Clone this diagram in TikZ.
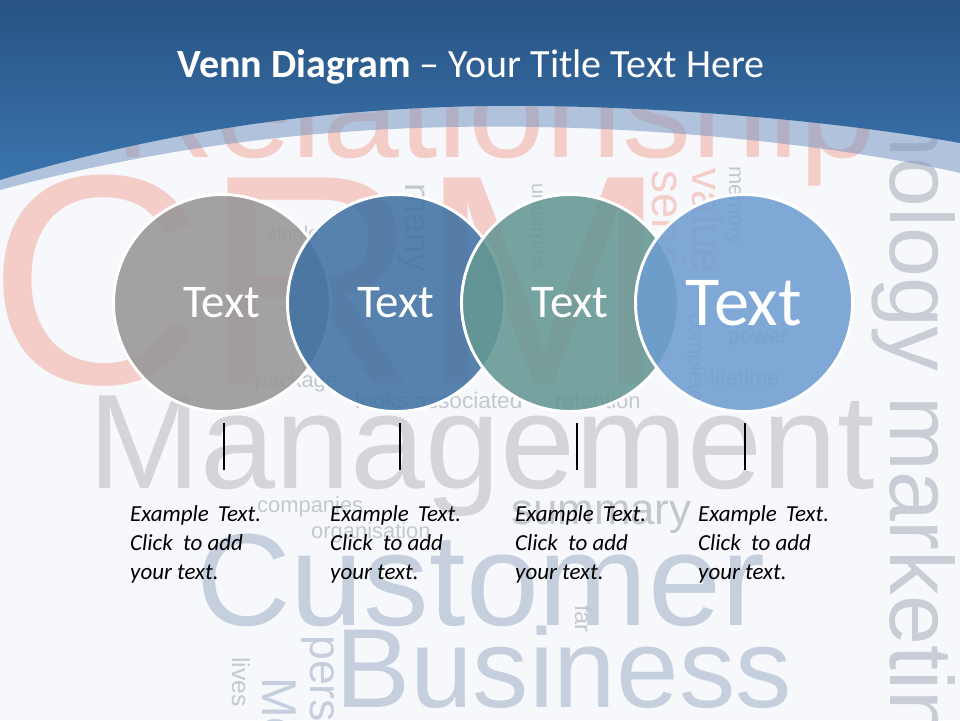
\documentclass[tikz,border=0pt]{standalone}
\usepackage{fontspec}
\usepackage{tikz}
\setmainfont{Carlito}
\newfontfamily\cloudfont{Liberation Sans}
\definecolor{cPage}{RGB}{246,248,252}
\definecolor{cHeadTop}{RGB}{40,83,131}
\definecolor{cHeadBot}{RGB}{58,116,174}
\definecolor{cBand}{RGB}{122,152,194}
\definecolor{cPink}{RGB}{245,205,200}
\definecolor{cGrayWord}{RGB}{211,213,217}
\definecolor{cBlueWord}{RGB}{197,207,221}
\definecolor{cSideWord}{RGB}{201,205,214}
\definecolor{cSmallWord}{RGB}{196,200,206}
\definecolor{cGrayC}{RGB}{151,151,151}
\definecolor{cBlueC}{RGB}{65,114,163}
\definecolor{cTealC}{RGB}{101,151,147}
\definecolor{cSkyC}{RGB}{111,157,209}
\tikzset{
	venn/.style ={circle, draw=white, line width=2.5pt, minimum size=6.51cm, inner sep=0pt, fill opacity=0.88, text opacity=1, text=white},
	stem/.style ={line width=2.2pt, black},
	note/.style ={anchor=north west, inner sep=0pt, align=left, font=\itshape\fontsize{19.6}{24.7}\selectfont},
	% word cloud styles
	hword/.style={anchor=base west, inner sep=0pt},
	vword/.style={hword, rotate=-90},
}
\begin{document}
\begin{tikzpicture}[x=0.03cm, y=-0.03cm]
	\useasboundingbox (0,0) rectangle (960,720);
	\clip (0,0) rectangle (960,720);
	\fill[cPage] (0,0) rectangle (960,720);
	% word cloud behind everything
	\node[hword, text=cPink, font=\cloudfont\fontsize{255}{255}\selectfont] (crm) at (-12,383) {CRM};
	\foreach \w/\x/\y/\s/\c [count=\k] in {Relationship/115/157/118/cPink, Management/88/488/115/cGrayWord,
		Customer/196/625/112/cBlueWord, Business/335/707/96/cBlueWord, single/267/240/17/cSmallWord,
		package/255/387/18.7/cSmallWord, looks associated/355/408/19.3/cSmallWord, retention/555/408/18.7/cSmallWord,
		power/728/343/18.7/cSmallWord, lifetime/710/385/18.7/cSmallWord, companies/257/512/18.7/cSmallWord,
		organisation/311/538/18.7/cSmallWord, summary/511/524/37.4/cSmallWord}
		\node[hword, text=\c, font=\cloudfont\fontsize{\s}{\s}\selectfont] (h\k) at (\x,\y) {\w};
	\foreach \w/\x/\y/\s/\c [count=\k] in {technology marketing/890/-62/76.5/cSideWord, many/405/183/31/cSmallWord,
		service/652/170/39/cPink, value/692/168/37.4/cPink, memory/729/166/18.7/cSmallWord,
		underpins/532/183/17/cSmallWord, complete/689/313/18.7/cSmallWord, far/575/605/20/cSmallWord,
		pers/310/635/38/cBlueWord, Mo/262/677/41.7/cBlueWord, lives/232/657/21/cSmallWord}
		\node[vword, text=\c, font=\cloudfont\fontsize{\s}{\s}\selectfont] (v\k) at (\x,\y) {\w};
	% header
	\fill[cBand, opacity=0.55] (0,0) -- (960,0) -- (960,173) .. controls (860,150) and (700,130) .. (540,127)
		.. controls (380,124) and (200,136) .. (0,190) -- cycle;
	\shade[top color=cHeadTop, bottom color=cHeadBot] (0,0) -- (960,0) -- (960,143) .. controls (860,125) and (700,108) .. (540,106)
		.. controls (380,104) and (200,120) .. (0,180) -- cycle;
	\node[text=white, anchor=base, font=\fontsize{34.2}{40}\selectfont] (title) at (471,77) {\textbf{Venn Diagram} \textendash{} Your Title Text Here};
	% circles
	\foreach \i/\x/\c/\s in {1/222/cGrayC/40, 2/396/cBlueC/40, 3/570/cTealC/40, 4/744/cSkyC/60}
		\node[venn, fill=\c, font=\fontsize{\s}{\s}\selectfont] (c\i) at (\x,303) {Text};
	% stems and notes
	\foreach \i/\x in {1/224, 2/400, 3/577, 4/745}{
		\coordinate (s\i) at (\x,423);
		\draw[stem] (s\i) -- ++(0,47);
	}
	\foreach \i/\x in {1/130, 2/330, 3/515, 4/698}
		\node[note] (n\i) at (\x,505) {Example\ \,Text.\\Click\ \ to add\\your text.};
\end{tikzpicture}
\end{document}
